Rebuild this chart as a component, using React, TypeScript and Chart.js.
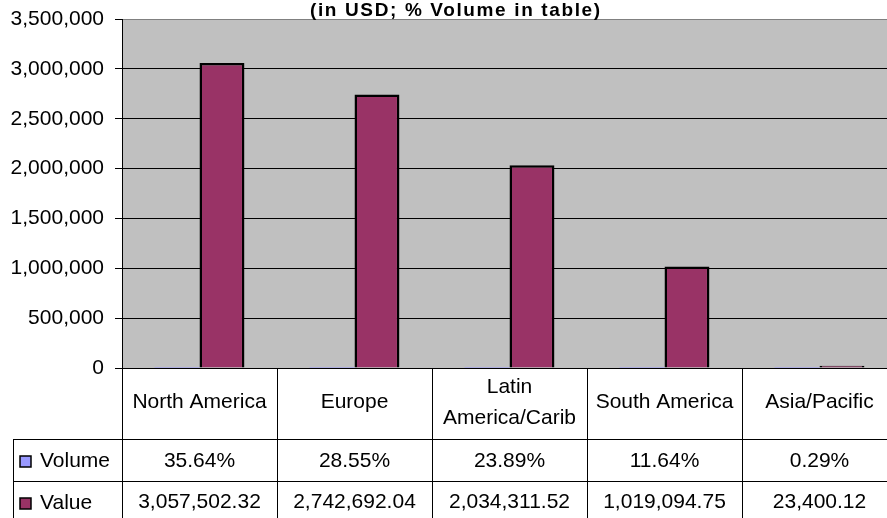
import React, { useEffect, useRef } from 'react';
import { Chart, registerables } from 'chart.js';

Chart.register(...registerables);

const categories = ['North America', 'Europe', 'Latin America/Carib', 'South America', 'Asia/Pacific'];
const categoryLines = [['North America'], ['Europe'], ['Latin', 'America/Carib'], ['South America'], ['Asia/Pacific']];
const volumePct = [35.64, 28.55, 23.89, 11.64, 0.29];
const values = [3057502.32, 2742692.04, 2034311.52, 1019094.75, 23400.12];
const seriesNames = ['Volume', 'Value'];
const seriesColors = ['#9999FF', '#993366'];
const yMin = 0;
const yMax = 3500000;
const yStep = 500000;
const titleText = '(in USD; % Volume in table)';

const FONT = '"Liberation Sans", Arial, sans-serif';

const volumeLabels = volumePct.map((v) => v.toFixed(2) + '%');
const valueLabels = values.map((v) =>
  v.toLocaleString('en-US', { minimumFractionDigits: 2, maximumFractionDigits: 2 })
);

const bgPlugin = {
  id: 'plotBg',
  beforeDraw(chart: any) {
    const { ctx, chartArea } = chart;
    ctx.save();
    ctx.fillStyle = '#C0C0C0';
    ctx.fillRect(chartArea.left, chartArea.top, chartArea.right - chartArea.left, chartArea.bottom - chartArea.top);
    ctx.restore();
  },
};

const tablePlugin = {
  id: 'dataTable',
  afterDraw(chart: any) {
    const { ctx, chartArea } = chart;
    const x = chart.scales.x;
    const n = categories.length;
    const colW = (chartArea.right - chartArea.left) / n;
    const top = chartArea.bottom;
    const r1 = top + 71;
    const r2 = r1 + 42;
    const r3 = r2 + 42;
    const legendLeft = 13;

    ctx.save();
    ctx.strokeStyle = '#000';
    ctx.lineWidth = 1;
    for (let i = 0; i <= n; i++) {
      const xx = Math.round(chartArea.left + i * colW) + 0.5;
      ctx.beginPath();
      ctx.moveTo(xx, top);
      ctx.lineTo(xx, r3);
      ctx.stroke();
    }
    ctx.beginPath();
    ctx.moveTo(legendLeft + 0.5, r1);
    ctx.lineTo(legendLeft + 0.5, r3);
    ctx.stroke();
    [r1, r2, r3].forEach((yy) => {
      ctx.beginPath();
      ctx.moveTo(legendLeft, Math.round(yy) + 0.5);
      ctx.lineTo(chartArea.right, Math.round(yy) + 0.5);
      ctx.stroke();
    });
    ctx.beginPath();
    ctx.moveTo(chartArea.left, Math.round(top) + 0.5);
    ctx.lineTo(chartArea.right, Math.round(top) + 0.5);
    ctx.stroke();

    ctx.fillStyle = '#000';
    ctx.font = '21px ' + FONT;
    ctx.textAlign = 'center';
    ctx.textBaseline = 'middle';
    for (let i = 0; i < n; i++) {
      const cx = x.getPixelForValue(i);
      const lines = categoryLines[i];
      if (lines.length === 1) {
        ctx.fillText(lines[0], cx, top + 34);
      } else {
        ctx.fillText(lines[0], cx, top + 19);
        ctx.fillText(lines[1], cx, top + 50);
      }
      ctx.fillText(volumeLabels[i], cx, r1 + 22);
      ctx.fillText(valueLabels[i], cx, r2 + 21);
    }
    const rows = [r1, r2];
    rows.forEach((ry, k) => {
      ctx.fillStyle = seriesColors[k];
      ctx.fillRect(20, ry + 17, 11, 11);
      ctx.strokeStyle = '#000';
      ctx.lineWidth = 1.5;
      ctx.strokeRect(20, ry + 17, 11, 11);
      ctx.fillStyle = '#000';
      ctx.textAlign = 'left';
      ctx.fillText(seriesNames[k], 40, ry + 22);
    });

    ctx.font = 'bold 19px ' + FONT;
    ctx.textAlign = 'left';
    ctx.textBaseline = 'alphabetic';
    const targetW = 290;
    (ctx as any).letterSpacing = '0px';
    const w0 = ctx.measureText(titleText).width;
    const ls = Math.max(0, (targetW - w0) / (titleText.length - 1));
    (ctx as any).letterSpacing = ls.toFixed(2) + 'px';
    ctx.fillText(titleText, 310, 16);
    (ctx as any).letterSpacing = '0px';
    ctx.restore();
  },
};

export default function App() {
  const ref = useRef<HTMLCanvasElement>(null);

  useEffect(() => {
    if (!ref.current) return;
    const chart = new Chart(ref.current, {
      type: 'bar',
      data: {
        labels: categories,
        datasets: [
          {
            label: seriesNames[0],
            data: volumePct.map((v) => v / 100),
            backgroundColor: seriesColors[0],
            borderWidth: 0,
          },
          {
            label: seriesNames[1],
            data: values,
            backgroundColor: seriesColors[1],
            borderColor: '#000',
            borderWidth: 2.5,
          },
        ],
      },
      options: {
        responsive: false,
        animation: false,
        events: [],
        layout: { padding: { left: 0, top: 19, right: 13, bottom: 150 } },
        datasets: { bar: { categoryPercentage: 0.58, barPercentage: 1 } },
        plugins: {
          legend: { display: false },
          tooltip: { enabled: false },
          title: { display: false },
        },
        scales: {
          x: {
            display: false,
            offset: true,
          },
          y: {
            min: yMin,
            max: yMax,
            afterFit: (scale: any) => {
              scale.width = 122;
              scale.paddingTop = 0;
              scale.paddingBottom = 0;
            },
            ticks: {
              stepSize: yStep,
              color: '#000',
              font: { family: FONT, size: 21 },
              padding: 11,
              callback: (v: any) => Number(v).toLocaleString('en-US'),
            },
            grid: {
              color: (c: any) => (c.tick && c.tick.value === yMax ? '#808080' : '#000'),
              tickColor: '#000',
              tickLength: 7,
              lineWidth: 1,
            },
            border: { display: true, color: '#000', width: 1 },
          },
        },
      },
      plugins: [bgPlugin, tablePlugin],
    });
    return () => chart.destroy();
  }, []);

  return (
    <div style={{ position: 'fixed', left: 0, top: 0, width: 887, height: 518, overflow: 'hidden', background: '#fff' }}>
      <canvas ref={ref} width={910} height={518} style={{ display: 'block' }} />
    </div>
  );
}
